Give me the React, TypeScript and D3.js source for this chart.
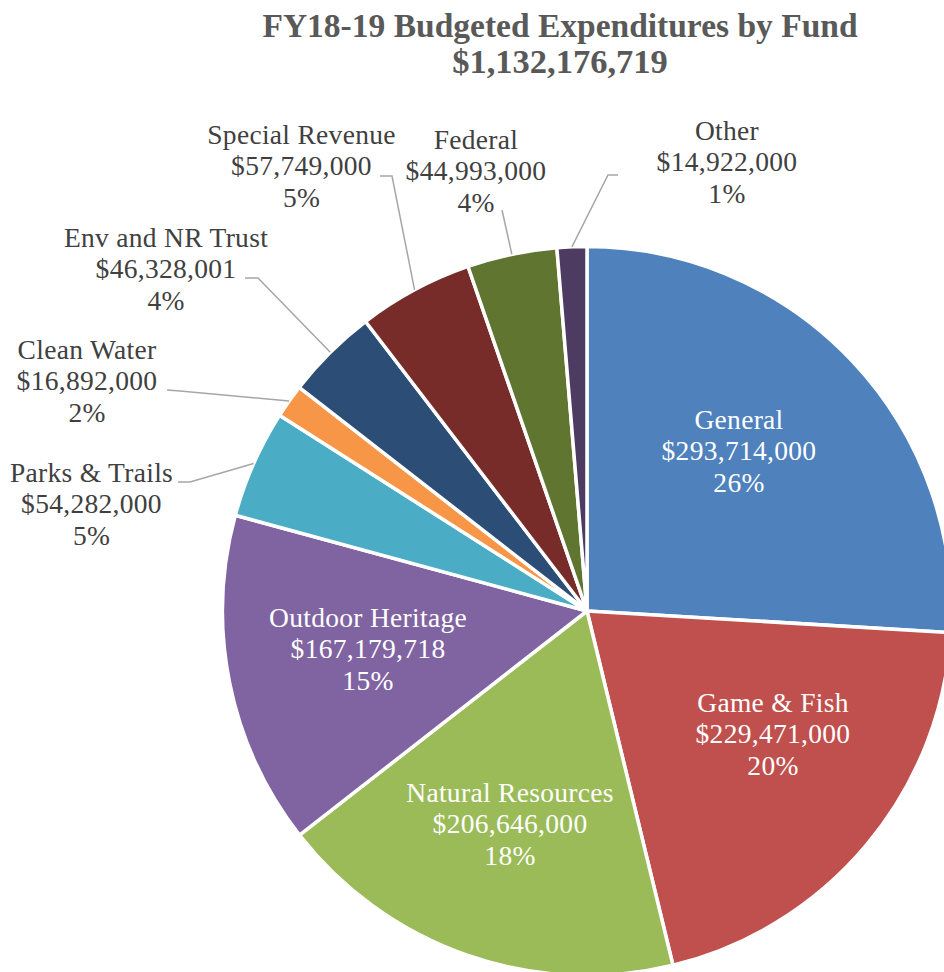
import React from 'react';
import * as d3 from 'd3';

const categories = [
  'General',
  'Game & Fish',
  'Natural Resources',
  'Outdoor Heritage',
  'Parks & Trails',
  'Clean Water',
  'Env and NR Trust',
  'Special Revenue',
  'Federal',
  'Other',
];
const amounts = [293714000, 229471000, 206646000, 167179718, 54282000, 16892000, 46328001, 57749000, 44993000, 14922000];
const percents = ['26%', '20%', '18%', '15%', '5%', '2%', '4%', '5%', '4%', '1%'];
const sliceColors = ['#4F81BD', '#C0504D', '#9BBB59', '#8064A2', '#4BACC6', '#F79646', '#2C4D75', '#772C2A', '#5F7530', '#4D3B62'];
const titleLines = ['FY18-19 Budgeted Expenditures by Fund', '$1,132,176,719'];

// label placement relative to pie centre (x = text centre, y = middle-line baseline)
type Layout = { dx: number; dy: number; inside: boolean; elbow?: [number, number]; end?: [number, number] };
const labelLayout: Layout[] = [
  { dx: 152, dy: -151, inside: true },
  { dx: 186, dy: 132, inside: true },
  { dx: -77, dy: 222, inside: true },
  { dx: -219, dy: 47, inside: true },
  { dx: -495.5, dy: -98, inside: false, elbow: [-397, -129], end: [-409, -129] },
  { dx: -500, dy: -221, inside: false, elbow: [-407, -220], end: [-420, -221] },
  { dx: -421, dy: -333, inside: false, elbow: [-329, -333], end: [-342, -333] },
  { dx: -285.5, dy: -436, inside: false, elbow: [-195, -435], end: [-207, -435] },
  { dx: -111, dy: -431, inside: false, elbow: [-85, -401] },
  { dx: 140, dy: -440, inside: false, elbow: [21, -436], end: [31, -436] },
];

const W = 944;
const H = 972;
const CX = 587;
const CY = 611;
const R = 364.5;
const LINE = 31.5;
const FONT = "'Liberation Serif', 'Times New Roman', serif";

export default function App() {
  const data = categories.map((c, i) => ({ name: c, value: amounts[i], pct: percents[i], color: sliceColors[i], layout: labelLayout[i] }));
  const pie = d3
    .pie<(typeof data)[number]>()
    .sort(null)
    .value((d) => d.value)
    .startAngle(0)
    .endAngle(2 * Math.PI);
  const arcs = pie(data);
  const arc = d3.arc<d3.PieArcDatum<(typeof data)[number]>>().innerRadius(0).outerRadius(R);
  const fmt = d3.format('$,');
  const line = d3.line();

  return (
    <svg width={W} height={H} style={{ position: 'absolute', left: 0, top: 0, background: '#fff' }}>
      <g fontFamily={FONT}>
        <text textAnchor="middle" fill="#595959" fontWeight="bold" fontSize={33.5}>
          <tspan x={560} y={37}>{titleLines[0]}</tspan>
          <tspan x={560} y={73} fontSize={34.5}>{titleLines[1]}</tspan>
        </text>
        <g transform={`translate(${CX},${CY})`}>
          {arcs.map((a, i) => (
            <path key={i} d={arc(a) || ''} fill={a.data.color} stroke="#fff" strokeWidth={3.5} strokeLinejoin="round" />
          ))}
          {arcs.map((a, i) => {
            const L = a.data.layout;
            if (L.inside || !L.elbow) return null;
            const mid = (a.startAngle + a.endAngle) / 2;
            const start: [number, number] = [R * Math.sin(mid), -R * Math.cos(mid)];
            const pts: [number, number][] = [start, L.elbow];
            if (L.end) pts.push(L.end);
            return <path key={'l' + i} d={line(pts) || ''} fill="none" stroke="#A6A6A6" strokeWidth={1.5} />;
          })}
          {arcs.map((a, i) => {
            const L = a.data.layout;
            const lines = [a.data.name, fmt(a.data.value), a.data.pct];
            return (
              <text key={'t' + i} textAnchor="middle" fontSize={27.5} letterSpacing={0.3} fill={L.inside ? '#fff' : '#404040'}>
                {lines.map((s, k) => (
                  <tspan key={k} x={L.dx} y={L.dy + (k - 1) * LINE}>
                    {s}
                  </tspan>
                ))}
              </text>
            );
          })}
        </g>
      </g>
    </svg>
  );
}
